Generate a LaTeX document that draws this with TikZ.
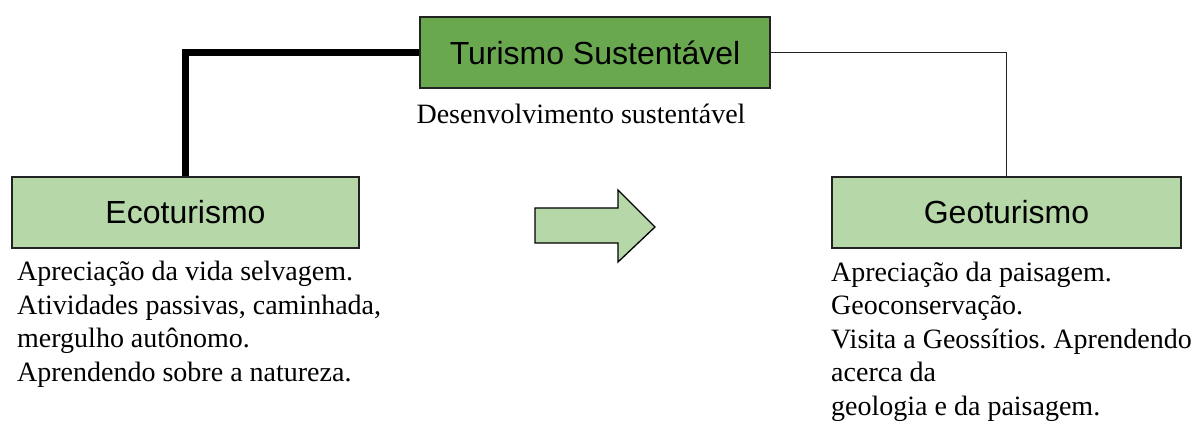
\documentclass[tikz,border=0pt]{standalone}
\usepackage{fontspec}
\setmainfont{Liberation Serif}
\setsansfont{Liberation Sans}
\frenchspacing
\definecolor{darkgreen}{HTML}{6AA84F}
\definecolor{lightgreen}{HTML}{B6D7A8}
\definecolor{edge}{HTML}{222222}
\tikzset{
  box/.style={draw=edge, line width=1.3pt, minimum width=348pt, minimum height=71pt, inner sep=0pt, font=\sffamily\fontsize{32}{36}\selectfont},
  body/.style={anchor=base west, inner sep=0pt, align=left, font=\fontsize{28}{33.5}\selectfont},
}
\begin{document}
\begin{tikzpicture}[x=1pt,y=-1pt]
\useasboundingbox (0,0) rectangle (1195,425);
\node[box, fill=darkgreen, minimum width=350pt] (top) at (595,52.5) {Turismo Sustentável};
\node[box, fill=lightgreen, minimum width=347pt] (eco) at (185.5,212.5) {Ecoturismo};
\node[box, fill=lightgreen, minimum width=349pt] (geo) at (1006.5,212.5) {Geoturismo};
\node[anchor=base, inner sep=0pt, font=\fontsize{28}{30}\selectfont] (desc) at (581,124) {Desenvolvimento sustentável};
\node[body] (ecotext) at (17,381) {Apreciação da vida selvagem.\\Atividades passivas, caminhada,\\mergulho autônomo.\\Aprendendo sobre a natureza.};
\node[body] (geotext) at (831,415) {Apreciação da paisagem.\\Geoconservação.\\Visita a Geossítios. Aprendendo\\acerca da\\geologia e da paisagem.};
\draw[line width=6.5pt] (top.west) -| (eco.north);
\draw[line width=1.5pt, draw=edge] (top.east) -| (geo.north);
\draw[draw=black, line width=1.3pt, fill=lightgreen, line join=miter]
  (535,208) coordinate (a1) -- (618,208) -- (618,190) -- (655,227) -- (618,262) -- (618,243) -- (535,243) -- cycle;
\end{tikzpicture}
\end{document}
